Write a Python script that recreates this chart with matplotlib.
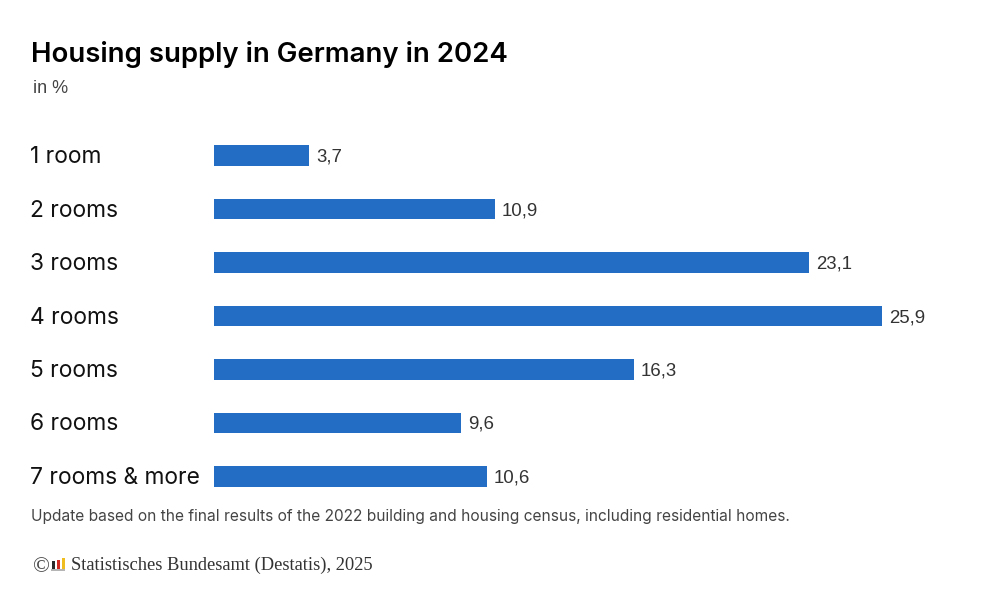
import matplotlib
matplotlib.use("Agg")
import matplotlib.pyplot as plt
from matplotlib.patches import Rectangle

categories = ["1 room", "2 rooms", "3 rooms", "4 rooms", "5 rooms", "6 rooms", "7 rooms & more"]
values = [3.7, 10.9, 23.1, 25.9, 16.3, 9.6, 10.6]
labels = ["3,7", "10,9", "23,1", "25,9", "16,3", "9,6", "10,6"]
title = "Housing supply in Germany in 2024"
subtitle = "in %"
note = "Update based on the final results of the 2022 building and housing census, including residential homes."
source = "Statistisches Bundesamt (Destatis), 2025"
icon_heights = [0.65, 0.8, 1.0]
icon_colors = ["#2a2a2a", "#d02a22", "#f0bd20"]

FONT = "Inter"
fig = plt.figure(figsize=(10, 6), dpi=100, facecolor="white")
ax = fig.add_axes([0.2135, 1 - 503 / 600, 0.7275, 374 / 600])
y = list(range(len(values)))
ax.barh(y, values, height=0.385, color="#246dc4", zorder=2)
ax.set_ylim(6.5, -0.5)
ax.set_xlim(0, 28.2)
ax.axis("off")
for yi, v, l in zip(y, values, labels):
    ax.annotate(l, (v, yi), xytext=(7, -1.5), textcoords="offset pixels", ha="left", va="center",
                fontsize=13.4, color="#333333", family="Liberation Sans")

for yi, c in zip(y, categories):
    ax.annotate(c, (0, yi), xycoords=("axes fraction", "data"), xytext=(30 - 213.5, 1), textcoords="offset pixels",
                ha="left", va="center_baseline", fontsize=16.4, color="#111111", family=FONT)

fig.text(31 / 1000, 1 - 54 / 600, title, fontsize=19.85, fontweight="semibold", family=FONT, color="#000000", va="center")
fig.text(33 / 1000, 1 - 88 / 600, subtitle, fontsize=13, family="Liberation Sans", color="#444444", va="center")
fig.text(31 / 1000, 1 - 516 / 600, note, fontsize=11.15, family=FONT, color="#444444", va="center")
fig.text(71 / 1000, 1 - 565 / 600, source, fontsize=13.3, family="Liberation Serif", color="#333333", va="center")
fig.text(33 / 1000, 1 - 568 / 600, "\u00a9", fontsize=16, family="Liberation Serif", color="#444444", va="center")

bx = 52
for h, c in zip(icon_heights, icon_colors):
    fig.add_artist(Rectangle((bx / 1000, 1 - 568.5 / 600), 3.4 / 1000, 11 * h / 600, transform=fig.transFigure, color=c, lw=0))
    bx += 4.8
fig.add_artist(Rectangle((51 / 1000, 1 - 571 / 600), 14 / 1000, 2.3 / 600, transform=fig.transFigure, color="#b5b5b5", lw=0))

fig.savefig("out.png", dpi=100)
